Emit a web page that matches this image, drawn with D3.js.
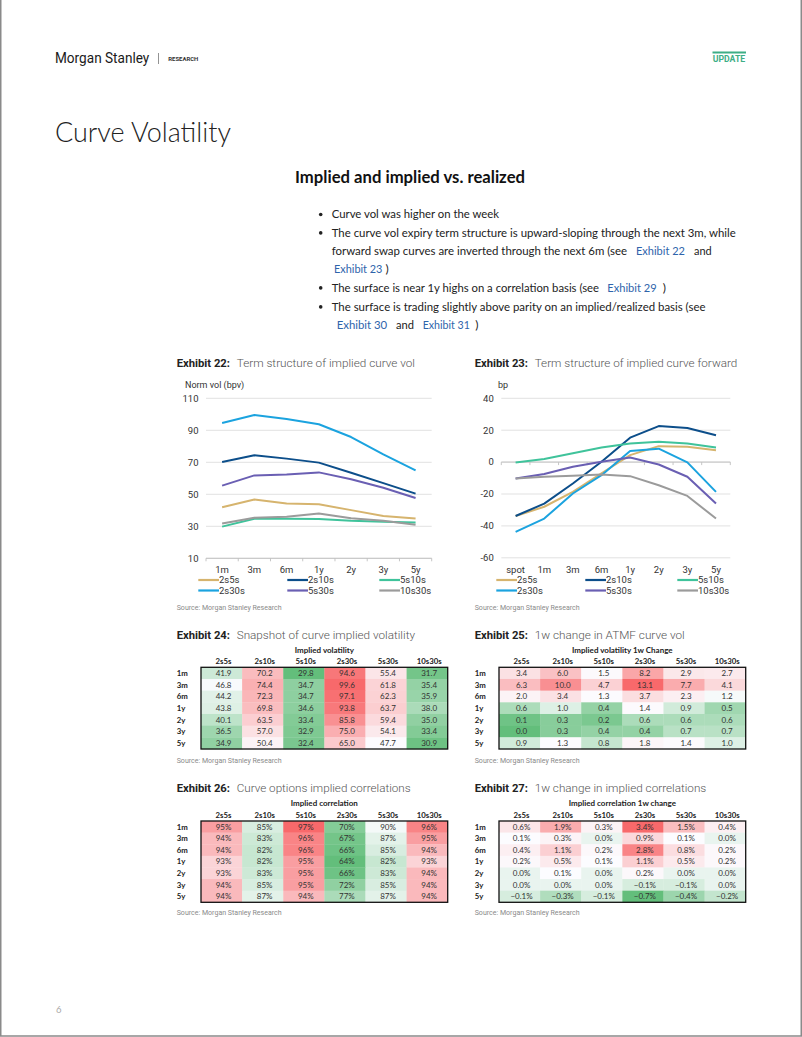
<!DOCTYPE html>
<html><head><meta charset="utf-8">
<script src="https://cdn.jsdelivr.net/npm/d3@7"></script>
<style>body{margin:0;background:#fff}svg{display:block}</style>
</head><body>
<svg id="page" width="802" height="1037"></svg>
<script>
// ---------------- DATA ----------------
const tenors22 = ["1m","3m","6m","1y","2y","3y","5y"];
const tenors23 = ["spot","1m","3m","6m","1y","2y","3y","5y"];
const curves = ["2s5s","2s10s","5s10s","2s30s","5s30s","10s30s"];
const rowTenors = ["1m","3m","6m","1y","2y","3y","5y"];
const yTicks22 = [10,30,50,70,90,110];
const yTicks23 = [-60,-40,-20,0,20,40];

// Exhibit 22 / 24: implied curve vol (bpv) by expiry
const vol_2s5s   = [41.9,46.8,44.2,43.8,40.1,36.5,34.9];
const vol_2s10s  = [70.2,74.4,72.3,69.8,63.5,57.0,50.4];
const vol_5s10s  = [29.8,34.7,34.7,34.6,33.4,32.9,32.4];
const vol_2s30s  = [94.6,99.6,97.1,93.8,85.8,75.0,65.0];
const vol_5s30s  = [55.4,61.8,62.3,63.7,59.4,54.1,47.7];
const vol_10s30s = [31.7,35.4,35.9,38.0,35.0,33.4,30.9];

// Exhibit 23: implied curve forwards (bp)
const fwd_2s5s   = [-33.8,-28.0,-18.7,-7.0,4.4,10.0,9.6,7.5];
const fwd_2s10s  = [-33.8,-26.0,-13.4,0.2,15.3,22.6,21.4,16.8];
const fwd_5s10s  = [-0.2,2.0,5.5,9.2,11.7,12.8,11.7,9.2];
const fwd_2s30s  = [-43.8,-35.4,-19.7,-8.2,6.9,8.4,-0.2,-18.7];
const fwd_5s30s  = [-10.3,-7.5,-2.9,0.2,2.9,-1.5,-9.2,-26.0];
const fwd_10s30s = [-10.3,-9.2,-8.6,-7.8,-8.8,-14.5,-21.2,-35.4];

// Exhibit 25: 1w change in ATMF curve vol (rows = expiry)
const volChg = [
  [3.4,6.0,1.5,8.2,2.9,2.7],
  [6.3,10.0,4.7,13.1,7.7,4.1],
  [2.0,3.4,1.3,3.7,2.3,1.2],
  [0.6,1.0,0.4,1.4,0.9,0.5],
  [0.1,0.3,0.2,0.6,0.6,0.6],
  [0.0,0.3,0.4,0.4,0.7,0.7],
  [0.9,1.3,0.8,1.8,1.4,1.0]
];
// Exhibit 26: implied correlations (%)
const corr = [
  [95,85,97,70,90,96],
  [94,83,96,67,87,95],
  [94,82,96,66,85,94],
  [93,82,95,64,82,93],
  [93,83,95,66,83,94],
  [94,85,95,72,85,94],
  [94,87,94,77,87,94]
];
// Exhibit 27: 1w change in implied correlations (%)
const corrChg = [
  [0.6,1.9,0.3,3.4,1.5,0.4],
  [0.1,0.3,0.0,0.9,0.1,0.0],
  [0.4,1.1,0.2,2.8,0.8,0.2],
  [0.2,0.5,0.1,1.1,0.5,0.2],
  [0.0,0.1,0.0,0.2,0.0,0.0],
  [0.0,0.0,0.0,-0.1,-0.1,0.0],
  [-0.1,-0.3,-0.1,-0.7,-0.4,-0.2]
];

const seriesColors = {"2s5s":"#d6b46e","2s10s":"#0c4e8a","5s10s":"#3fc39b","2s30s":"#1ba3df","5s30s":"#6a5fb3","10s30s":"#9b9b9b"};
const vol22 = {"2s5s":vol_2s5s,"2s10s":vol_2s10s,"5s10s":vol_5s10s,"2s30s":vol_2s30s,"5s30s":vol_5s30s,"10s30s":vol_10s30s};
const fwd23 = {"2s5s":fwd_2s5s,"2s10s":fwd_2s10s,"5s10s":fwd_5s10s,"2s30s":fwd_2s30s,"5s30s":fwd_5s30s,"10s30s":fwd_10s30s};
const volRows = rowTenors.map((t,i)=>curves.map(c=>vol22[c][i]));

// ---------------- DRAW ----------------
const svg = d3.select("#page");
const BODY = "Lato, 'Open Sans', 'Noto Sans', sans-serif";
const CHART = "Roboto, 'Liberation Sans', Arial, sans-serif";
const NARROW = "'Liberation Sans Narrow', Roboto, 'Liberation Sans', sans-serif";

function txt(x,y,s,o={}){
  const t = svg.append("text").attr("x",x).attr("y",y).text(s)
    .attr("font-family",o.ff||BODY).attr("font-size",o.fs||10)
    .attr("fill",o.fill||"#222");
  if(o.fw) t.attr("font-weight",o.fw);
  if(o.anchor) t.attr("text-anchor",o.anchor);
  if(o.len) t.attr("textLength",o.len).attr("lengthAdjust","spacingAndGlyphs");
  if(o.fit){ // scale font size so the natural width matches the target width
    const L = t.node().getComputedTextLength();
    if(L>0) t.attr("font-size",(o.fs||10)*o.fit/L);
  }
  return t;
}

// page border
svg.append("rect").attr("x",0.75).attr("y",-5).attr("width",800.5).attr("height",1041)
  .attr("fill","none").attr("stroke","#8a8a8a").attr("stroke-width",1.5);

// header
txt(55,62.7,"Morgan Stanley",{ff:NARROW,fs:14.5,fill:"#1a1a1a",len:94.3});
svg.append("line").attr("x1",158.5).attr("x2",158.5).attr("y1",53).attr("y2",64).attr("stroke","#777").attr("stroke-width",0.8);
txt(168.3,60.5,"RESEARCH",{ff:CHART,fs:5.5,fw:"bold",fill:"#333",len:30});
svg.append("line").attr("x1",712.5).attr("x2",746).attr("y1",52.5).attr("y2",52.5).attr("stroke","#3dae86").attr("stroke-width",2);
txt(712.7,62,"UPDATE",{ff:NARROW,fs:8.5,fw:"bold",fill:"#3dae86",len:32.5});
txt(55,142,"Curve Volatility",{ff:BODY,fs:27,fw:300,fill:"#222",len:176});
txt(295,182.7,"Implied and implied vs. realized",{ff:BODY,fs:17,fw:"bold",fill:"#111",len:230});

// bullets
const LINK = "#2e64ab";
const bulletLines = [
  {b:true, y:218.3, segs:[["Curve vol was higher on the week",331.7,499.3,0]]},
  {b:true, y:236.7, segs:[["The curve vol expiry term structure is upward-sloping through the next 3m, while",331.7,736,0]]},
  {b:false,y:255,   segs:[["forward swap curves are inverted through the next 6m (see",331.7,627.3,0],["Exhibit 22",636,685,1],["and",694,711.7,0]]},
  {b:false,y:273.3, segs:[["Exhibit 23",334,382.5,1],[")",385.5,389,0]]},
  {b:true, y:291.7, segs:[["The surface is near 1y highs on a correlation basis (see",331.7,599.3,0],["Exhibit 29",607.3,656.7,1],[")",662.7,666.7,0]]},
  {b:true, y:310.7, segs:[["The surface is trading slightly above parity on an implied/realized basis (see",331.7,706,0]]},
  {b:false,y:328.7, segs:[["Exhibit 30",336.7,387.3,1],["and",396,414,0],["Exhibit 31",422.7,470,1],[")",475.3,479.3,0]]}
];
bulletLines.forEach(l=>{
  if(l.b) svg.append("circle").attr("cx",320.7).attr("cy",l.y-3.8).attr("r",1.8).attr("fill","#222");
  l.segs.forEach(s=>{
    const o={ff:BODY,fs:12,fill:s[3]?LINK:"#222"};
    if(s[0].length>1) o.fit=s[2]-s[1];
    txt(s[1],l.y,s[0],o);
  });
});

// exhibit titles
function exTitle(x,y,num,rest,wNum,wRest){
  txt(x,y,"Exhibit "+num+":",{ff:CHART,fs:11,fw:"bold",fill:"#222",len:wNum});
  txt(x+60,y,rest,{ff:CHART,fs:11.5,fw:300,fill:"#555",len:wRest});
}
function source(x,y){ txt(x,y,"Source: Morgan Stanley Research",{ff:CHART,fs:7,fill:"#8a8a8a",len:105}); }

// line charts
function lineChart(cfg){
  const x = d3.scaleBand().domain(cfg.cats).range([cfg.x0,cfg.x1]);
  const y = d3.scaleLinear().domain(cfg.domain).range([cfg.yBot,cfg.yTop]);
  const g = svg.append("g");
  g.selectAll("line.grid").data(cfg.ticks).join("line")
    .attr("x1",cfg.x0).attr("x2",cfg.x1).attr("y1",d=>y(d)).attr("y2",d=>y(d))
    .attr("stroke","#d9d9d9").attr("stroke-width",0.8);
  g.selectAll("text.yt").data(cfg.ticks).join("text")
    .attr("x",cfg.x0-7.5).attr("y",d=>y(d)+3.3).attr("text-anchor","end")
    .attr("font-family",CHART).attr("font-size",9.5).attr("fill","#333").text(d=>d);
  const ya = y(cfg.axisAt);
  g.append("line").attr("x1",cfg.x0).attr("x2",cfg.x1).attr("y1",ya).attr("y2",ya).attr("stroke","#bfbfbf").attr("stroke-width",0.9);
  const bounds = cfg.cats.map(c=>x(c)).concat([cfg.x1]);
  g.selectAll("line.tk").data(bounds).join("line")
    .attr("x1",d=>d).attr("x2",d=>d).attr("y1",ya).attr("y2",ya+3)
    .attr("stroke","#bfbfbf").attr("stroke-width",0.9);
  g.selectAll("text.xt").data(cfg.cats).join("text")
    .attr("x",d=>x(d)+x.bandwidth()/2).attr("y",573).attr("text-anchor","middle")
    .attr("font-family",CHART).attr("font-size",9.5).attr("fill","#333").text(d=>d);
  txt(cfg.yLabelX,388,cfg.yLabel,{ff:CHART,fs:9,fill:"#333"});
  const line = d3.line().x((d,i)=>x(cfg.cats[i])+x.bandwidth()/2).y(d=>y(d));
  curves.forEach(c=>{
    g.append("path").datum(cfg.data[c]).attr("d",line).attr("fill","none")
      .attr("stroke",seriesColors[c]).attr("stroke-width",2).attr("stroke-linejoin","round");
  });
  const colX = [198.3,287.3,379.3].map(v=>v+cfg.dx);
  const rowY = [580,590.5];
  curves.forEach((c,i)=>{
    const lx = colX[i%3], ly = rowY[Math.floor(i/3)];
    g.append("line").attr("x1",lx).attr("x2",lx+20.7).attr("y1",ly).attr("y2",ly)
      .attr("stroke",seriesColors[c]).attr("stroke-width",2.2);
    g.append("text").attr("x",lx+20.7).attr("y",ly+3.4).attr("font-family",CHART)
      .attr("font-size",9.5).attr("fill","#333").text(c);
  });
}

exTitle(176.7,366.5,"22","Term structure of implied curve vol",53.3,178.3);
lineChart({cats:tenors22,x0:206,x1:431.7,yTop:398.3,yBot:558.3,domain:[10,110],ticks:yTicks22,axisAt:10,
  data:vol22,yLabel:"Norm vol (bpv)",yLabelX:185,dx:0});
source(176.7,610.3);

exTitle(474.7,366.5,"23","Term structure of implied curve forward",53.3,202.6);
lineChart({cats:tenors23,x0:501.3,x1:730.3,yTop:398.3,yBot:557.8,domain:[-60,40],ticks:yTicks23,axisAt:0,
  data:fwd23,yLabel:"bp",yLabelX:498,dx:298});
source(474.7,610.3);

// heat tables
function heatTable(cfg){
  const flat = cfg.rows.flat();
  const color = d3.scaleLinear()
    .domain([d3.min(flat), d3.median(flat), d3.max(flat)])
    .range(["#63BE7B","#FCFCFF","#F8696B"]);
  const x = d3.scaleBand().domain(curves).range([cfg.x0,cfg.x1]);
  const y = d3.scaleBand().domain(rowTenors).range([cfg.yTop,cfg.yBot]);
  const g = svg.append("g");
  exTitle(cfg.x0-24.3,cfg.titleY,cfg.num,cfg.title,53.3,cfg.titleW);
  txt((cfg.x0+cfg.x1)/2,cfg.subY,cfg.sub,{ff:BODY,fs:8,fw:"bold",fill:"#222",anchor:"middle"});
  g.selectAll("text.ch").data(curves).join("text")
    .attr("x",d=>x(d)+x.bandwidth()/2+2).attr("y",cfg.headY).attr("text-anchor","middle")
    .attr("font-family",BODY).attr("font-size",7.8).attr("font-weight","bold").attr("fill","#222").text(d=>d);
  g.selectAll("text.rh").data(rowTenors).join("text")
    .attr("x",cfg.x0-24.3).attr("y",d=>y(d)+y.bandwidth()/2+2.8)
    .attr("font-family",BODY).attr("font-size",7.8).attr("font-weight","bold").attr("fill","#222").text(d=>d);
  const cells = [];
  cfg.rows.forEach((r,i)=>r.forEach((v,j)=>cells.push({r:rowTenors[i],c:curves[j],v})));
  g.selectAll("rect.cell").data(cells).join("rect")
    .attr("x",d=>x(d.c)).attr("y",d=>y(d.r)).attr("width",x.bandwidth()+0.3).attr("height",y.bandwidth()+0.3)
    .attr("fill",d=>color(d.v));
  g.selectAll("text.val").data(cells).join("text")
    .attr("x",d=>x(d.c)+x.bandwidth()/2+2).attr("y",d=>y(d.r)+y.bandwidth()/2+2.8)
    .attr("text-anchor","middle").attr("font-family",BODY).attr("font-size",8).attr("fill","#333")
    .text(d=>cfg.fmt(d.v));
  g.append("rect").attr("x",cfg.x0).attr("y",cfg.yTop).attr("width",cfg.x1-cfg.x0).attr("height",cfg.yBot-cfg.yTop)
    .attr("fill","none").attr("stroke","#111").attr("stroke-width",1.3);
  source(cfg.x0-24.3,cfg.srcY);
}
const f1 = d3.format(".1f");
heatTable({rows:volRows,fmt:f1,x0:201,x1:447.7,yTop:667.3,yBot:749,num:"24",title:"Snapshot of curve implied volatility",titleW:178.3,
  titleY:638.5,sub:"Implied volatility",subY:653,headY:664,srcY:762.5});
heatTable({rows:volChg,fmt:f1,x0:499,x1:745.7,yTop:667.3,yBot:749,num:"25",title:"1w change in ATMF curve vol",titleW:150,
  titleY:638.5,sub:"Implied volatility 1w Change",subY:653,headY:664,srcY:762.5});
heatTable({rows:corr,fmt:d=>d+"%",x0:201,x1:447.7,yTop:821,yBot:902.3,num:"26",title:"Curve options implied correlations",titleW:174,
  titleY:791.7,sub:"Implied correlation",subY:806.3,headY:818,srcY:915});
heatTable({rows:corrChg,fmt:d=>f1(d)+"%",x0:499,x1:745.7,yTop:821,yBot:902.3,num:"27",title:"1w change in implied correlations",titleW:171.6,
  titleY:791.7,sub:"Implied correlation 1w change",subY:806.3,headY:818,srcY:915});

// page number
txt(56,1012.5,"6",{ff:BODY,fs:9.5,fill:"#aaa"});
</script>
</body></html>
